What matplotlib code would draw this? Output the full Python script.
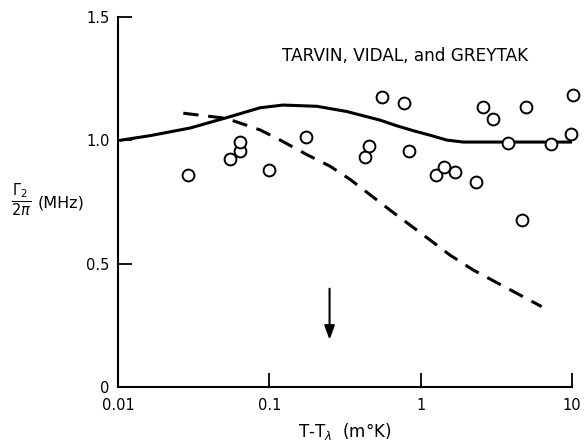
import matplotlib
matplotlib.use("Agg")
import matplotlib.pyplot as plt
from matplotlib.ticker import FixedLocator, FixedFormatter, NullLocator

# Data points (circles)
pts_x = [0.0292, 0.0550, 0.0640, 0.0640, 0.0995, 0.175, 0.429, 0.458, 0.559, 0.776,
         0.841, 1.264, 1.428, 1.68, 2.32, 2.57, 3.00, 3.78, 4.68, 4.97, 7.27, 9.82, 10.2]
pts_y = [0.859, 0.923, 0.957, 0.992, 0.878, 1.012, 0.931, 0.978, 1.177, 1.152,
         0.957, 0.859, 0.893, 0.870, 0.832, 1.134, 1.086, 0.990, 0.677, 1.134, 0.985, 1.024, 1.184]

# Solid curve
solid_x = [0.0103, 0.0163, 0.030, 0.0406, 0.0523, 0.0868, 0.123, 0.206, 0.324, 0.539,
           0.695, 0.895, 1.15, 1.49, 1.91, 10.0]
solid_y = [1.000, 1.019, 1.050, 1.073, 1.092, 1.132, 1.143, 1.138, 1.117, 1.082,
           1.059, 1.039, 1.021, 1.001, 0.993, 0.993]

# Dashed curve
dash_x = [0.027, 0.037, 0.052, 0.087, 0.118, 0.177, 0.252, 0.341, 0.628, 1.153,
          1.56, 2.23, 4.31, 6.3]
dash_y = [1.110, 1.100, 1.089, 1.042, 1.001, 0.942, 0.895, 0.842, 0.717, 0.596,
          0.535, 0.474, 0.380, 0.326]

# Arrow
arrow_x = 0.25
arrow_y0 = 0.41
arrow_y1 = 0.18

xticks = [0.01, 0.1, 1, 10]
xticklabels = ["0.01", "0.1", "1", "10"]
yticks = [0, 0.5, 1.0, 1.5]
yticklabels = ["0", "0.5", "1.0", "1.5"]

plt.rcParams['font.family'] = ['DejaVu Sans']

fig = plt.figure(figsize=(5.84, 4.42), dpi=100)
ax = fig.add_axes([118/584, 1-387/442, (572-118)/584, (387-17)/442])

ax.set_xscale('log')
ax.set_xlim(0.01, 10)
ax.set_ylim(0, 1.5)

ax.plot(solid_x, solid_y, color='black', lw=2.2, solid_capstyle='round',
        solid_joinstyle='round', zorder=2)
ax.plot(dash_x, dash_y, color='black', lw=2.2, dashes=(5, 3.2), zorder=2)
ax.plot(pts_x, pts_y, linestyle='none', marker='o', ms=8.5, mfc='white', mec='black',
        mew=1.4, zorder=3, clip_on=False)

ax.annotate('', xy=(arrow_x, arrow_y1), xytext=(arrow_x, arrow_y0),
            arrowprops=dict(arrowstyle='-|>,head_length=0.6,head_width=0.22', lw=1.5,
                            color='black', mutation_scale=14))

for s in ['top', 'right']:
    ax.spines[s].set_visible(False)
for s in ['left', 'bottom']:
    ax.spines[s].set_linewidth(1.5)

ax.xaxis.set_major_locator(FixedLocator(xticks))
ax.xaxis.set_major_formatter(FixedFormatter(xticklabels))
ax.xaxis.set_minor_locator(NullLocator())
ax.yaxis.set_major_locator(FixedLocator(yticks))
ax.yaxis.set_major_formatter(FixedFormatter(yticklabels))
ax.tick_params(direction='in', length=10, width=1.3, labelsize=10.5, pad=6)
ax.tick_params(axis='x', pad=8)

ax.text(0.3605, 0.895, "TARVIN, VIDAL, and GREYTAK", transform=ax.transAxes,
        fontsize=12.2, ha='left', va='center')

ax.set_xlabel(r"T-T$_\lambda$  (m°K)", fontsize=12, labelpad=6)
fig.text(0.018, 1-200/442, r"$\frac{\Gamma_2}{2\pi}$", fontsize=15, ha='left', va='center')
fig.text(0.064, 1-203/442, "(MHz)", fontsize=11.5, ha='left', va='center')

fig.savefig("out.png", dpi=100)
